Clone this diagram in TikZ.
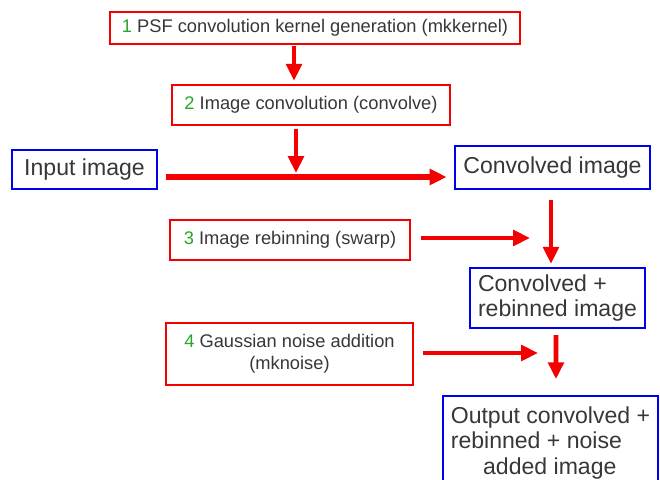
\documentclass[tikz,border=0pt]{standalone}
\usepackage{fontspec}
\setmainfont{Liberation Sans}
\usetikzlibrary{arrows.meta}
\definecolor{stepred}{RGB}{245,0,0}
\definecolor{imgblue}{RGB}{0,0,240}
\definecolor{numgreen}{RGB}{40,165,40}
\definecolor{txtgray}{RGB}{55,55,55}
\newcommand{\px}{0.025cm}
\newcommand{\stepno}[1]{\textcolor{numgreen}{#1}}
\begin{document}
\begin{tikzpicture}[x=0.025cm, y=-0.025cm,
    stepbox/.style={draw=stepred, line width=2pt, text=txtgray, inner sep=0pt, font=\fontsize{13}{15.6}\selectfont},
    imgbox/.style={draw=imgblue, line width=2pt, text=txtgray, inner sep=0pt, font=\fontsize{16.4}{18.4}\selectfont},
    flow/.style={draw=stepred, line width=3.5pt, -{Triangle[length=12pt, width=11pt]}}]
  \useasboundingbox (0, 0) rectangle (660, 480);

  \node [stepbox, minimum width=410*\px, minimum height=32*\px] (kernel) at (315, 28) {\stepno{1} PSF convolution kernel generation (mkkernel)};
  \node [stepbox, minimum width=278*\px, minimum height=40*\px] (convolve) at (311, 105) {\stepno{2} Image convolution (convolve)};
  \node [imgbox, minimum width=145*\px, minimum height=39*\px] (input) at (84.5, 169.5) {Input image};
  \node [imgbox, minimum width=195*\px, minimum height=43*\px] (convolved) at (552.5, 167.5) {Convolved image};
  \node [stepbox, minimum width=240*\px, minimum height=40*\px] (swarp) at (290, 240) {\stepno{3} Image rebinning (swarp)};
  \node [imgbox, align=left, minimum width=175*\px, minimum height=60*\px] (rebinned) at (557.5, 298) {Convolved +\\rebinned image};
  \node [stepbox, align=center, minimum width=247*\px, minimum height=62*\px] (mknoise) at (289.5, 354) {\stepno{4} Gaussian noise addition\\(mknoise)};
  \node [imgbox, align=left, minimum width=215*\px, minimum height=94*\px] (output) at (550.5, 443) {Output convolved +\\rebinned + noise\\\hspace{23pt}added image};

  \coordinate (join) at (296, 173);
  \coordinate (swarpend) at (530, 238);
  \coordinate (noiseend) at (538, 353);

  \draw [flow, shorten <=0.5pt, shorten >=2pt] ([xshift=-21*\px]kernel.south) -- ([xshift=-17*\px]convolve.north);
  \draw [flow, shorten <=1.5pt] ([xshift=-15*\px]convolve.south) -- (join);
  \draw [flow, line width=4.2pt, shorten <=5.7pt, shorten >=5pt] ([yshift=-7.5*\px]input.east) -- ([yshift=-9.5*\px]convolved.west);
  \draw [flow, shorten <=7pt, shorten >=2pt] ([xshift=-1.5*\px]convolved.south) -- ([xshift=-6.5*\px]rebinned.north);
  \draw [flow, shorten <=7pt] (swarp.east |- swarpend) -- (swarpend);
  \draw [flow, shorten <=6.4pt] (mknoise.east |- noiseend) -- (noiseend);
  \draw [flow, shorten <=4pt, shorten >=11pt] ([xshift=-1.5*\px]rebinned.south) -- ([xshift=5.5*\px]output.north);
\end{tikzpicture}
\end{document}
